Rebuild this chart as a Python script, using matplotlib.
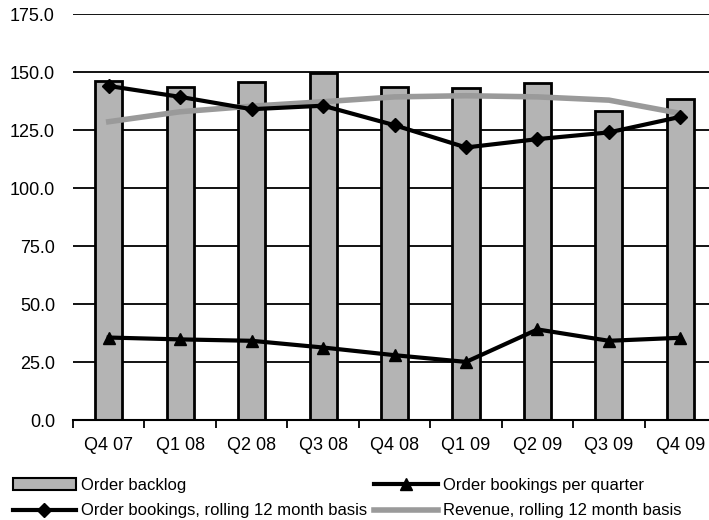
import matplotlib.pyplot as plt
import numpy as np
from matplotlib.lines import Line2D
from matplotlib.patches import Patch

plt.rcParams['font.family'] = ['Liberation Sans', 'DejaVu Sans']

# DATA
quarters = ['Q4 07', 'Q1 08', 'Q2 08', 'Q3 08', 'Q4 08', 'Q1 09', 'Q2 09', 'Q3 09', 'Q4 09']
order_backlog = [146.2, 143.6, 145.8, 149.4, 143.4, 143.0, 145.1, 133.2, 138.4]
bookings_quarter = [35.6, 34.8, 34.2, 31.3, 28.0, 25.1, 39.1, 34.2, 35.5]
bookings_rolling = [144.0, 139.3, 134.0, 135.5, 127.1, 117.5, 121.1, 124.0, 130.7]
revenue_rolling = [128.6, 132.9, 135.3, 137.2, 139.3, 139.8, 139.3, 137.9, 132.2]

fig = plt.figure(figsize=(7.09, 5.2), dpi=100)
ax = fig.add_axes([0.103, 0.192, 0.907, 0.781])

x = np.arange(len(quarters))

# GRID
for v in np.arange(0, 176, 25):
    ax.axhline(v, color='black', lw=1.3, zorder=0)

# BARS + LINES
ax.bar(x, order_backlog, width=0.38, color='#b4b4b4', edgecolor='black', linewidth=2, zorder=2)
ax.plot(x, revenue_rolling, color='#9a9a9a', lw=4, zorder=3)
ax.plot(x, bookings_rolling, color='black', lw=3, marker='D', ms=7, zorder=4)
ax.plot(x, bookings_quarter, color='black', lw=3, marker='^', ms=9, zorder=4)

ax.set_xlim(-0.5, len(quarters) - 0.5)
ax.set_ylim(0, 175)
ax.set_yticks(np.arange(0, 176, 25))
ax.set_yticklabels([f'{v:.1f}' for v in np.arange(0, 176, 25)], fontsize=13)
ax.set_xticks(x)
ax.set_xticklabels(quarters, fontsize=13)
ax.tick_params(axis='y', length=0, pad=13)
ax.tick_params(axis='x', length=0, pad=12)
# category separators on the x axis
ax.set_xticks(np.arange(-0.5, len(quarters), 1), minor=True)
ax.tick_params(axis='x', which='minor', length=6, width=1.3, direction='out')

for s in ['top', 'right', 'left']:
    ax.spines[s].set_visible(False)
ax.spines['bottom'].set_linewidth(1.5)

# LEGEND (two columns placed separately)
h_backlog = Patch(facecolor='#b4b4b4', edgecolor='black', linewidth=1.5, label='Order backlog')
h_rolling = Line2D([], [], color='black', lw=3, marker='D', ms=7,
                   label='Order bookings, rolling 12 month basis')
h_quarter = Line2D([], [], color='black', lw=3, marker='^', ms=9, label='Order bookings per quarter')
h_revenue = Line2D([], [], color='#9a9a9a', lw=4, label='Revenue, rolling 12 month basis')

leg_kw = dict(loc='lower left', frameon=False, fontsize=12, handlelength=3.8, handleheight=0.7,
              handletextpad=0.3, labelspacing=0.65, borderaxespad=0, borderpad=0)
fig.legend(handles=[h_backlog, h_rolling], bbox_to_anchor=(0.018, 0.003), **leg_kw)
fig.legend(handles=[h_quarter, h_revenue], bbox_to_anchor=(0.528, 0.003), **leg_kw)

fig.savefig('out.png', dpi=100)
